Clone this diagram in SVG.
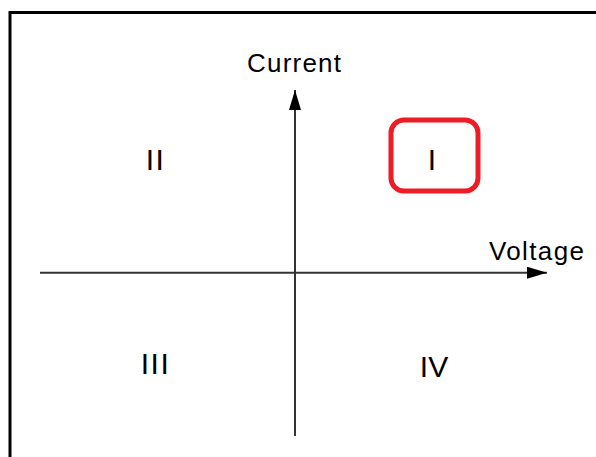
<svg xmlns="http://www.w3.org/2000/svg" width="596" height="457" viewBox="0 0 596 457">
<defs>
<marker id="arr" viewBox="0 0 20 12" refX="20" refY="6" markerWidth="20" markerHeight="12" markerUnits="userSpaceOnUse" orient="auto">
<path d="M0,0 L20,6 L0,12 Z" fill="#000"/>
</marker>
<style>
.lbl{font-family:"Liberation Sans",Arial,sans-serif;font-size:26px;fill:#000;}
.num{font-family:"Liberation Sans",Arial,sans-serif;font-size:30px;fill:#000;text-anchor:middle;}
.axis{stroke:#333;stroke-width:2;fill:none;}
</style>
</defs>
<rect width="596" height="457" fill="#fff"/>
<path d="M10,457 L10,12.5 L596,12.5" fill="none" stroke="#000" stroke-width="3"/>
<g id="connectors">
<line class="axis" x1="40" y1="272.7" x2="547" y2="272.7" marker-end="url(#arr)"/>
<line class="axis" x1="295" y1="436" x2="295" y2="90" marker-end="url(#arr)"/>
</g>
<g id="current"><text class="lbl" x="247" y="72" textLength="94" lengthAdjust="spacing">Current</text></g>
<g id="voltage"><text class="lbl" x="489" y="260" textLength="95" lengthAdjust="spacing">Voltage</text></g>
<g id="q1">
<rect x="391" y="120" width="87" height="71" rx="13" fill="none" stroke="#ee1c25" stroke-width="5"/>
<text class="num" x="432" y="170">I</text>
</g>
<g id="q2"><text class="num" x="155.5" y="170.3" letter-spacing="1.5">II</text></g>
<g id="q3"><text class="num" x="155.5" y="373.7" letter-spacing="1.5">III</text></g>
<g id="q4"><text class="num" x="434" y="376.7">IV</text></g>
</svg>
